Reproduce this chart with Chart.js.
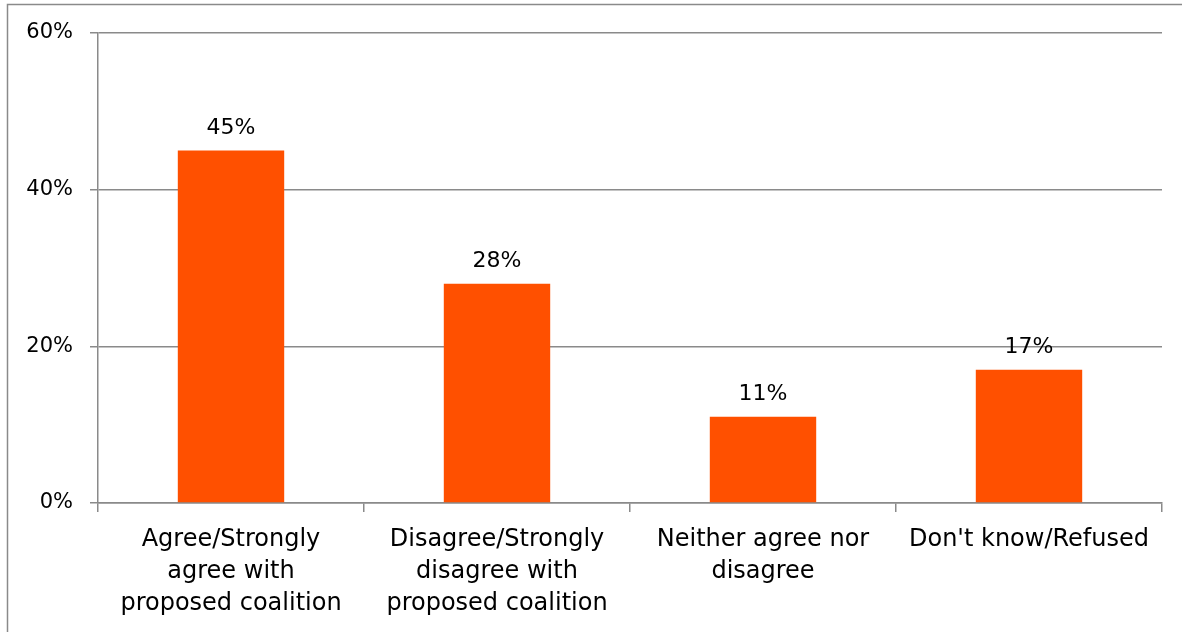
<!DOCTYPE html>
<html>
<head>
<meta charset="utf-8">
<script src="https://cdn.jsdelivr.net/npm/chart.js@4/dist/chart.umd.min.js"></script>
<style>
html,body{margin:0;padding:0;background:#fff;}
#wrap{position:relative;width:1182px;height:632px;}
</style>
</head>
<body>
<div id="wrap"><canvas id="c" width="1182" height="632"></canvas></div>
<script>
const categories = [
  ["Agree/Strongly", "agree with", "proposed coalition"],
  ["Disagree/Strongly", "disagree with", "proposed coalition"],
  ["Neither agree nor", "disagree"],
  ["Don't know/Refused"]
];
const values = [45, 28, 11, 17];
const yTicks = [0, 20, 40, 60];

const FONT = "'DejaVu Sans', sans-serif";
const GRAY = '#8a8a8a';

const frame = {
  id: 'frame',
  afterDraw(chart) {
    const ctx = chart.ctx;
    ctx.save();
    ctx.strokeStyle = GRAY;
    ctx.lineWidth = 1.5;
    ctx.beginPath();
    ctx.moveTo(7.5, 700);
    ctx.lineTo(7.5, 4.5);
    ctx.lineTo(1200, 4.5);
    ctx.stroke();
    ctx.restore();
  }
};

const valueLabels = {
  id: 'valueLabels',
  afterDatasetsDraw(chart) {
    const ctx = chart.ctx;
    const meta = chart.getDatasetMeta(0);
    ctx.save();
    ctx.font = '22px ' + FONT;
    ctx.fillStyle = '#000';
    ctx.textAlign = 'center';
    ctx.textBaseline = 'alphabetic';
    meta.data.forEach((bar, i) => {
      ctx.fillText(values[i] + '%', bar.x, bar.y - 17);
    });
    ctx.restore();
  }
};

new Chart(document.getElementById('c'), {
  type: 'bar',
  data: {
    labels: categories,
    datasets: [{
      data: values,
      backgroundColor: '#ff5000',
      categoryPercentage: 1.0,
      barPercentage: 0.4
    }]
  },
  options: {
    responsive: false,
    animation: false,
    layout: { padding: { left: 0, right: 20, top: 33, bottom: 0 } },
    plugins: { legend: { display: false }, tooltip: { enabled: false } },
    scales: {
      y: {
        min: 0, max: 60,
        afterBuildTicks(scale) { scale.ticks = yTicks.map(v => ({ value: v })); },
        afterFit(scale) { scale.width = 98; },
        ticks: {
          callback: v => v + '%',
          color: '#000',
          font: { family: FONT, size: 21 },
          padding: 17
        },
        grid: { color: GRAY, lineWidth: 1.5, tickLength: 8, drawTicks: true },
        border: { display: true, color: GRAY, width: 1.5 }
      },
      x: {
        afterFit(scale) { scale.height = 129; },
        ticks: {
          color: '#000',
          font: { family: FONT, size: 24, lineHeight: 1.3333 },
          padding: 12,
          maxRotation: 0,
          autoSkip: false
        },
        grid: { offset: true, drawOnChartArea: false, color: GRAY, lineWidth: 1.5, tickLength: 9 },
        border: { display: true, color: GRAY, width: 1.5 }
      }
    }
  },
  plugins: [frame, valueLabels]
});
</script>
</body>
</html>
